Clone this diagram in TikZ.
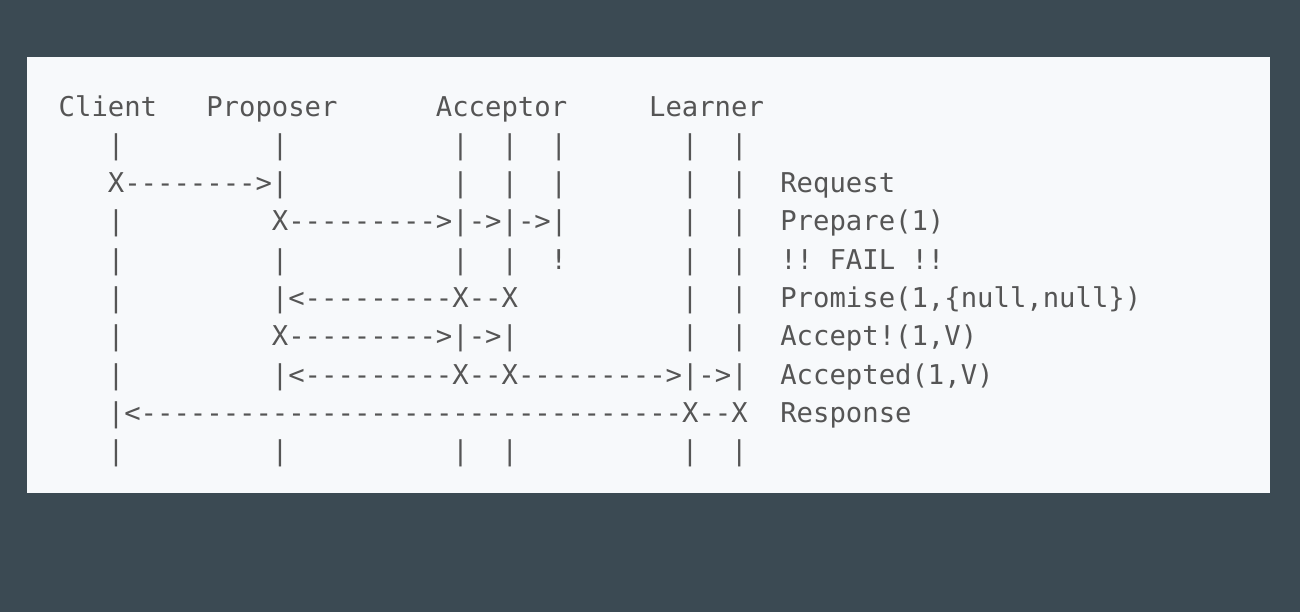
\documentclass[tikz,border=0pt]{standalone}
\usepackage{fontspec}
\usepackage{xcolor}
\setmonofont{DejaVu Sans Mono}
\usetikzlibrary{positioning}
\definecolor{sfondo}{RGB}{59,74,83}
\definecolor{pannello}{RGB}{247,249,251}
\definecolor{testo}{RGB}{85,85,85}

\begin{document}
\begin{tikzpicture}[x=0.01cm, y=-0.01cm,
		ascii/.style={anchor=base west, inner sep=0pt, text=testo, font=\ttfamily\fontsize{7.75}{9}\selectfont}]
	\useasboundingbox (0,0) rectangle (1300,612);
	\fill[sfondo] (0,0) rectangle (1300,612);
	\fill[pannello] (27,57) rectangle (1270,493);

	% Intestazione
	\node[ascii] (client) at (58,116) {Client};
	\node[ascii] (proposer) at ({58+16.4*9},116) {Proposer};
	\node[ascii] (acceptor) at ({58+16.4*23},116) {Acceptor};
	\node[ascii] (learner) at ({58+16.4*36},116) {Learner};

	% Linee di vita
	\foreach \r/\cols in {1/{3,13,24,27,30,38,41}, 2/{24,27,30,38,41}, 3/{3,38,41}, 4/{3,13,24,27,38,41},
			5/{3,38,41}, 6/{3,38,41}, 7/{3}, 9/{3,13,24,27,38,41}}
		\foreach \c in \cols
			\node[ascii] (v-\r-\c) at ({58+16.4*\c},{116+38.3*\r}) {|};
	\node[ascii] (fail) at ({58+16.4*30},{116+38.3*4}) {!};

	% Messaggi
	\node[ascii] (req) at ({58+16.4*3},{116+38.3*2}) {X-------->|};
	\node[ascii] (prep) at ({58+16.4*13},{116+38.3*3}) {X--------->|->|->|};
	\node[ascii] (prom) at ({58+16.4*13},{116+38.3*5}) {|<---------X--X};
	\node[ascii] (acc) at ({58+16.4*13},{116+38.3*6}) {X--------->|->|};
	\node[ascii] (accd) at ({58+16.4*13},{116+38.3*7}) {|<---------X--X--------->|->|};
	\node[ascii] (resp) at ({58+16.4*3},{116+38.3*8}) {|<---------------------------------X--X};

	% Etichette
	\node[ascii] (l2) at ({58+16.4*44},{116+38.3*2}) {Request};
	\node[ascii] (l3) at ({58+16.4*44},{116+38.3*3}) {Prepare(1)};
	\node[ascii] (l4) at ({58+16.4*44},{116+38.3*4}) {!! FAIL !!};
	\node[ascii] (l5) at ({58+16.4*44},{116+38.3*5}) {Promise(1,\{null,null\})};
	\node[ascii] (l6) at ({58+16.4*44},{116+38.3*6}) {Accept!(1,V)};
	\node[ascii] (l7) at ({58+16.4*44},{116+38.3*7}) {Accepted(1,V)};
	\node[ascii] (l8) at ({58+16.4*44},{116+38.3*8}) {Response};
\end{tikzpicture}
\end{document}
